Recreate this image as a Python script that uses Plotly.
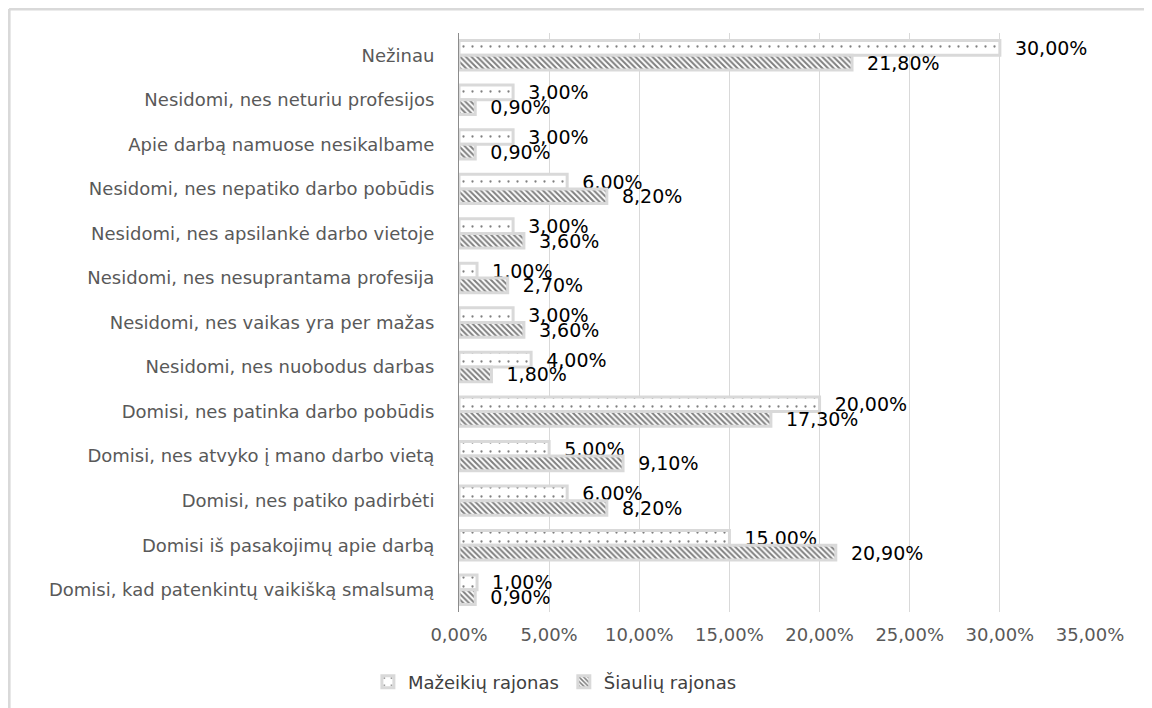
import plotly.graph_objects as go

categories = [
    "Nežinau",
    "Nesidomi, nes neturiu profesijos",
    "Apie darbą namuose nesikalbame",
    "Nesidomi, nes nepatiko darbo pobūdis",
    "Nesidomi, nes apsilankė darbo vietoje",
    "Nesidomi, nes nesuprantama profesija",
    "Nesidomi, nes vaikas yra per mažas",
    "Nesidomi, nes nuobodus darbas",
    "Domisi, nes patinka darbo pobūdis",
    "Domisi, nes atvyko į mano darbo vietą",
    "Domisi, nes patiko padirbėti",
    "Domisi iš pasakojimų apie darbą",
    "Domisi, kad patenkintų vaikišką smalsumą",
]
mazeikiai = [30.0, 3.0, 3.0, 6.0, 3.0, 1.0, 3.0, 4.0, 20.0, 5.0, 6.0, 15.0, 1.0]
siauliai = [21.8, 0.9, 0.9, 8.2, 3.6, 2.7, 3.6, 1.8, 17.3, 9.1, 8.2, 20.9, 0.9]
series_names = ["Mažeikių rajonas", "Šiaulių rajonas"]
x_ticks = [0, 5, 10, 15, 20, 25, 30, 35]
x_ticktext = ["0,00%", "5,00%", "10,00%", "15,00%", "20,00%", "25,00%", "30,00%", "35,00%"]

FONT = "DejaVu Sans"
fig = go.Figure()
fig.add_trace(go.Bar(
    y=categories, x=mazeikiai, name=series_names[0], orientation="h",
    marker=dict(color="white", line=dict(color="#d9d9d9", width=3),
                pattern=dict(shape=".", fgcolor="black", bgcolor="white", size=9, solidity=0.05)),
    texttemplate="\u00a0\u00a0%{x:.2f}%", textposition="outside", cliponaxis=False,
    constraintext="none", textfont=dict(size=19, color="black", family=FONT),
))
fig.add_trace(go.Bar(
    y=categories, x=siauliai, name=series_names[1], orientation="h",
    marker=dict(color="white", line=dict(color="#d9d9d9", width=3),
                pattern=dict(shape="\\", fgcolor="black", bgcolor="white", size=4, solidity=0.5)),
    texttemplate="\u00a0\u00a0%{x:.2f}%", textposition="outside", cliponaxis=False,
    constraintext="none", textfont=dict(size=19, color="black", family=FONT),
))

fig.update_layout(
    width=1144, height=700,
    margin=dict(l=451, r=62, t=25, b=96, autoexpand=False),
    paper_bgcolor="white", plot_bgcolor="white",
    barmode="group", bargap=0.34, bargroupgap=0.0,
    separators=", ",
    font=dict(family=FONT, color="#595959"),
    showlegend=True,
    legend=dict(orientation="h", x=0.152, xanchor="center", y=-0.121, yanchor="middle",
                font=dict(size=18, color="#404040", family=FONT)),
    xaxis=dict(range=[0, 35], tickvals=x_ticks, ticktext=x_ticktext, automargin=False,
               showgrid=True, gridcolor="#d9d9d9", gridwidth=1, zeroline=False,
               showline=False, tickfont=dict(size=18, color="#595959"), ticks="",
               ticklabelstandoff=10),
    yaxis=dict(autorange="reversed", showline=True, linecolor="#8c8c8c", linewidth=1,
               automargin=False,
               ticks="", ticklabelstandoff=20, tickfont=dict(size=18, color="#595959"),
               showgrid=False),
    shapes=[
        dict(type="line", xref="paper", yref="paper", x0=-0.713, x1=1.2, y0=1.0414, y1=1.0414,
             line=dict(color="#d9d9d9", width=3)),
        dict(type="line", xref="paper", yref="paper", x0=-0.713, x1=-0.713, y0=1.0414, y1=-0.2,
             line=dict(color="#d9d9d9", width=3)),
    ],
)

fig.write_html("out.html")
